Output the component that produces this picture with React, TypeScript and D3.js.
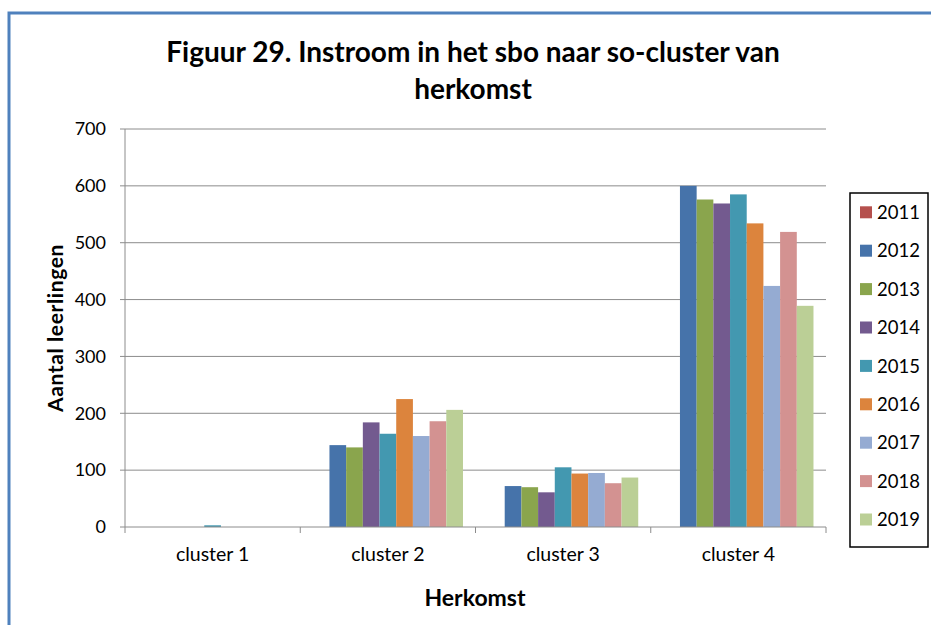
import React from "react";
import * as d3 from "d3";

const clusters = ["cluster 1", "cluster 2", "cluster 3", "cluster 4"];
const years = ["2011", "2012", "2013", "2014", "2015", "2016", "2017", "2018", "2019"];
const colors = ["#B5504D", "#4673AA", "#8AA54D", "#735A8F", "#4398B0", "#DC843D", "#95ABD2", "#D39291", "#BBCF96"];
// values per year, in cluster order
const v2011 = [0, 0, 0, 0];
const v2012 = [0, 144, 72, 600];
const v2013 = [0, 140, 70, 576];
const v2014 = [0, 184, 61, 569];
const v2015 = [3, 164, 105, 585];
const v2016 = [0, 225, 94, 534];
const v2017 = [0, 160, 95, 424];
const v2018 = [0, 186, 77, 519];
const v2019 = [0, 206, 87, 389];
const series = [v2011, v2012, v2013, v2014, v2015, v2016, v2017, v2018, v2019];
const yTicks = [0, 100, 200, 300, 400, 500, 600, 700];

const title1 = "Figuur 29. Instroom in het sbo naar so-cluster van";
const title2 = "herkomst";
const yTitle = "Aantal leerlingen";
const xTitle = "Herkomst";

const FONT = "Lato, 'Open Sans', sans-serif";

export default function App() {
  const W = 931, H = 625;
  const left = 125, right = 826, top = 129, bottom = 527;
  const x0 = d3.scaleBand<string>().domain(clusters).range([left, right]).paddingInner(0).paddingOuter(0);
  const x1 = d3.scaleBand<string>().domain(years).range([0, x0.bandwidth()]).paddingInner(0).paddingOuter(0.75);
  const y = d3.scaleLinear().domain([0, 700]).range([bottom, top]);
  const gridColor = "#8C8C8C";
  const boundaries = clusters.map((c) => x0(c) as number).concat([right]);

  return (
    <svg width={W} height={H} style={{ position: "absolute", left: 0, top: 0, background: "#fff" }}>
      <rect x={0} y={0} width={W} height={H} fill="#fff" />
      <rect x={9} y={13} width={W + 20} height={H + 20} fill="none" stroke="#4F81BD" strokeWidth={3} />
      <text x={473} y={62} textAnchor="middle" fontFamily={FONT} fontWeight="bold" fontSize={28} fill="#000">{title1}</text>
      <text x={473} y={99} textAnchor="middle" fontFamily={FONT} fontWeight="bold" fontSize={28} fill="#000">{title2}</text>

      {yTicks.map((t) => (
        <g key={t}>
          {t > 0 && <line x1={left} x2={right} y1={y(t)} y2={y(t)} stroke={gridColor} strokeWidth={1} />}
          <line x1={left - 5} x2={left} y1={y(t)} y2={y(t)} stroke={gridColor} strokeWidth={1} />
          <text x={106} y={y(t)} dy="0.35em" textAnchor="end" fontFamily={FONT} fontSize={18} fill="#000">{t}</text>
        </g>
      ))}

      {series.map((vals, si) =>
        clusters.map((c, ci) => {
          const v = vals[ci];
          if (!v) return null;
          const bx = (x0(c) as number) + (x1(years[si]) as number);
          return (
            <rect key={si + "-" + ci} x={bx} y={y(v)} width={x1.bandwidth()} height={y(0) - y(v)} fill={colors[si]} />
          );
        })
      )}

      <line x1={left} x2={left} y1={top} y2={bottom} stroke={gridColor} strokeWidth={1} />
      <line x1={left} x2={right} y1={bottom} y2={bottom} stroke={gridColor} strokeWidth={1} />
      {boundaries.map((b, i) => (
        <line key={i} x1={b} x2={b} y1={bottom} y2={bottom + 6} stroke={gridColor} strokeWidth={1} />
      ))}
      {clusters.map((c) => (
        <text key={c} x={(x0(c) as number) + x0.bandwidth() / 2} y={561} textAnchor="middle" fontFamily={FONT} fontSize={19.5} fill="#000">{c}</text>
      ))}
      <text x={475} y={606} textAnchor="middle" fontFamily={FONT} fontWeight="bold" fontSize={23} fill="#000">{xTitle}</text>
      <text transform={`translate(63, 328) rotate(-90)`} textAnchor="middle" fontFamily={FONT} fontWeight="bold" fontSize={21} letterSpacing={0.6} fill="#000">{yTitle}</text>

      <rect x={850} y={193} width={78} height={354} fill="#fff" stroke="#000" strokeWidth={1.5} />
      {years.map((yr, i) => {
        const cy = 212.3 + i * 38.4;
        return (
          <g key={yr}>
            <rect x={860} y={cy - 6} width={12} height={12} fill={colors[i]} />
            <text x={877} y={cy} dy="0.36em" fontFamily={FONT} fontSize={18.5} fill="#000">{yr}</text>
          </g>
        );
      })}
    </svg>
  );
}
